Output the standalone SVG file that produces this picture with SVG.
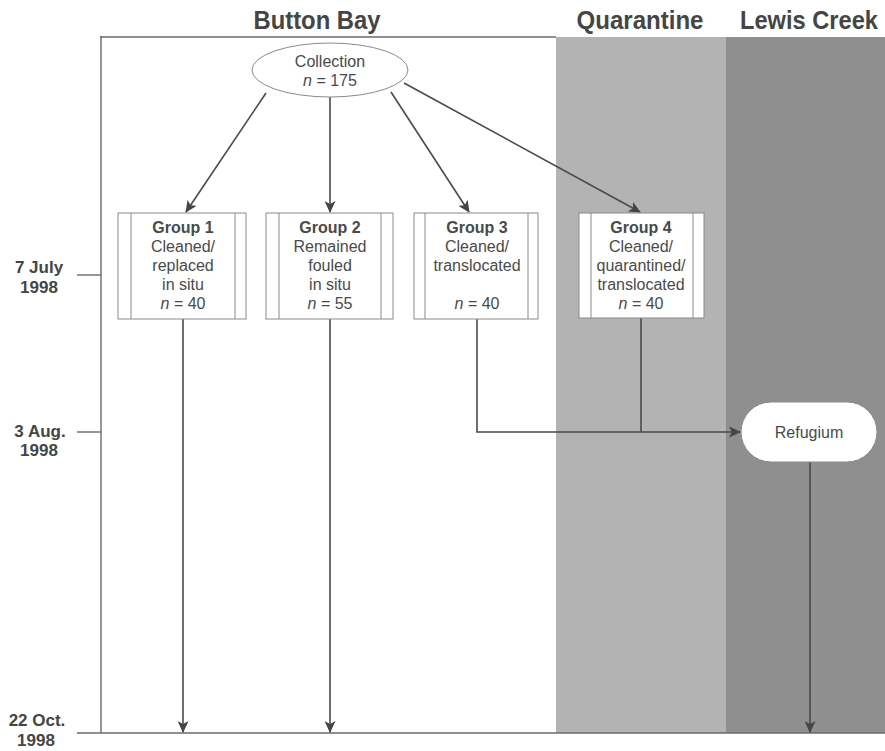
<svg xmlns="http://www.w3.org/2000/svg" width="885" height="751" viewBox="0 0 885 751">
<defs>
<marker id="ah" markerWidth="12" markerHeight="11" refX="11" refY="5.5" orient="auto" markerUnits="userSpaceOnUse">
<path d="M0,0 L12,5.5 L0,11 L3,5.5 Z" fill="#454545"/>
</marker>
</defs>
<style>
.hd{font-family:"Liberation Sans",Arial,sans-serif;font-weight:bold;font-size:25px;fill:#454545;text-anchor:middle}
.dt{font-family:"Liberation Sans",Arial,sans-serif;font-weight:bold;font-size:17px;fill:#454545;text-anchor:middle}
.t{font-family:"Liberation Sans",Arial,sans-serif;font-size:16px;fill:#4a4a4a;text-anchor:middle}
.b{font-weight:bold}
.box{fill:#fff;stroke:#8a8a8a;stroke-width:1}
.in{stroke:#8a8a8a;stroke-width:1}
.ln{stroke:#4a4a4a;stroke-width:1.6;fill:none}
.ax{stroke:#6a6a6a;stroke-width:1.4;fill:none}
</style>
<rect x="0" y="0" width="885" height="751" fill="#fff"/>
<rect x="556" y="37" width="170" height="696" fill="#b3b3b3"/>
<rect x="726" y="37" width="159" height="696" fill="#8f8f8f"/>
<g id="axes">
<line class="ax" x1="100" y1="37" x2="556" y2="37" stroke="#9a9a9a"/>
<line class="ax" x1="101" y1="36" x2="101" y2="733"/>
<line class="ax" x1="77" y1="733" x2="885" y2="733"/>
<line class="ax" x1="77" y1="275" x2="101" y2="275"/>
<line class="ax" x1="77" y1="432" x2="101" y2="432"/>
</g>
<g id="headings">
<text class="hd" x="317" y="29" textLength="127" lengthAdjust="spacingAndGlyphs">Button Bay</text>
<text class="hd" x="640" y="29" textLength="127" lengthAdjust="spacingAndGlyphs">Quarantine</text>
<text class="hd" x="809" y="29" textLength="138" lengthAdjust="spacingAndGlyphs">Lewis Creek</text>
</g>
<g id="dates">
<text class="dt" x="39" y="273">7 July</text>
<text class="dt" x="39" y="293">1998</text>
<text class="dt" x="40" y="437">3 Aug.</text>
<text class="dt" x="39" y="456">1998</text>
<text class="dt" x="37" y="726">22 Oct.</text>
<text class="dt" x="36" y="746">1998</text>
</g>
<g id="connectors">
<line class="ln" x1="266" y1="93" x2="186" y2="212" marker-end="url(#ah)"/>
<line class="ln" x1="330" y1="97" x2="330" y2="212" marker-end="url(#ah)"/>
<line class="ln" x1="391" y1="92" x2="469" y2="212" marker-end="url(#ah)"/>
<line class="ln" x1="404" y1="83" x2="640" y2="212" marker-end="url(#ah)"/>
<line class="ln" x1="183" y1="319" x2="183" y2="732" marker-end="url(#ah)"/>
<line class="ln" x1="330" y1="319" x2="330" y2="732" marker-end="url(#ah)"/>
<polyline class="ln" points="477,319 477,432 740,432" marker-end="url(#ah)"/>
<line class="ln" x1="641" y1="318" x2="641" y2="432"/>
<line class="ln" x1="810" y1="462" x2="810" y2="732" marker-end="url(#ah)"/>
</g>
<g id="collection">
<ellipse cx="330" cy="70" rx="78" ry="27" class="box"/>
<text class="t" x="330" y="67">Collection</text>
<text class="t" x="330" y="86"><tspan font-style="italic">n</tspan> = 175</text>
</g>
<g id="group1">
<rect class="box" x="118" y="213" width="128" height="106"/>
<line class="in" x1="131" y1="213" x2="131" y2="319"/>
<line class="in" x1="235" y1="213" x2="235" y2="319"/>
<text class="t b" x="183" y="233">Group 1</text>
<text class="t" x="183" y="252">Cleaned/</text>
<text class="t" x="183" y="271">replaced</text>
<text class="t" x="183" y="290">in situ</text>
<text class="t" x="183" y="309"><tspan font-style="italic">n</tspan> = 40</text>
</g>
<g id="group2">
<rect class="box" x="266" y="213" width="127" height="106"/>
<line class="in" x1="279" y1="213" x2="279" y2="319"/>
<line class="in" x1="381" y1="213" x2="381" y2="319"/>
<text class="t b" x="330" y="233">Group 2</text>
<text class="t" x="330" y="252">Remained</text>
<text class="t" x="330" y="271">fouled</text>
<text class="t" x="330" y="290">in situ</text>
<text class="t" x="330" y="309"><tspan font-style="italic">n</tspan> = 55</text>
</g>
<g id="group3">
<rect class="box" x="414" y="213" width="124" height="106"/>
<line class="in" x1="425" y1="213" x2="425" y2="319"/>
<line class="in" x1="528" y1="213" x2="528" y2="319"/>
<text class="t b" x="477" y="233">Group 3</text>
<text class="t" x="477" y="252">Cleaned/</text>
<text class="t" x="477" y="271">translocated</text>
<text class="t" x="477" y="309"><tspan font-style="italic">n</tspan> = 40</text>
</g>
<g id="group4">
<rect class="box" x="579" y="213" width="125" height="105"/>
<line class="in" x1="591" y1="213" x2="591" y2="318"/>
<line class="in" x1="693" y1="213" x2="693" y2="318"/>
<text class="t b" x="641" y="233">Group 4</text>
<text class="t" x="641" y="252">Cleaned/</text>
<text class="t" x="641" y="271">quarantined/</text>
<text class="t" x="641" y="290">translocated</text>
<text class="t" x="641" y="309"><tspan font-style="italic">n</tspan> = 40</text>
</g>
<g id="refugium">
<rect class="box" x="741" y="402" width="136" height="60" rx="30" ry="30"/>
<text class="t" x="809" y="438" font-size="17">Refugium</text>
</g>
</svg>
